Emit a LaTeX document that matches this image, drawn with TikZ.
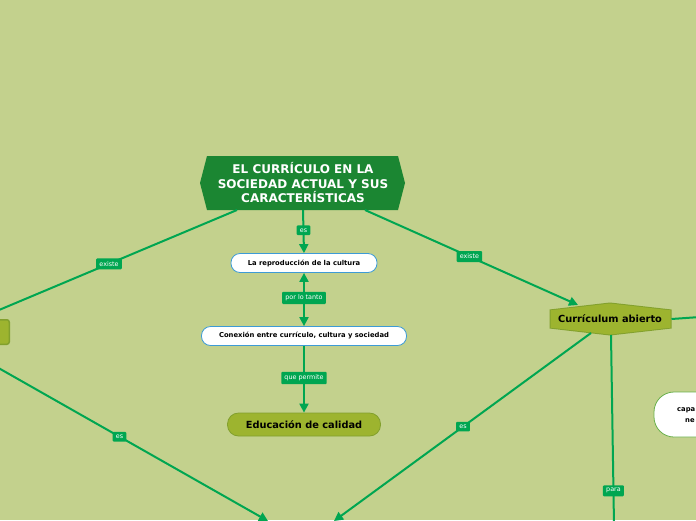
\documentclass[tikz,border=0pt]{standalone}
\usepackage{fontspec}
\setmainfont{DejaVu Sans}
\usetikzlibrary{arrows.meta}
\definecolor{bgc}{HTML}{C3D18D}
\definecolor{conn}{HTML}{00A651}
\definecolor{darkg}{HTML}{1B8632}
\definecolor{olive}{HTML}{9DB42F}
\definecolor{oliveb}{HTML}{82A02D}
\definecolor{blueb}{HTML}{3D9BD6}
\definecolor{greenb}{HTML}{6AB04C}
\tikzset{
  conline/.style={draw=conn, line width=2pt},
  arr/.style={-{Triangle[length=9pt,width=9pt]}},
  darr/.style={{Triangle[length=9pt,width=9pt]}-{Triangle[length=9pt,width=9pt]}},
  lbl/.style={fill=conn, text=white, font=\fontsize{6.4}{7}\selectfont, inner xsep=3.2pt, inner ysep=3pt, rounded corners=1pt},
  whitebox/.style={draw=blueb, fill=white, line width=0.8pt, rounded corners=9pt, minimum height=19pt, font=\bfseries\fontsize{6.8}{8}\selectfont, inner xsep=4pt},
  olivebox/.style={draw=oliveb, fill=olive, line width=0.8pt, rounded corners=11pt, minimum height=23pt, font=\bfseries\fontsize{9.8}{11}\selectfont},
}
\begin{document}
\begin{tikzpicture}[x=1pt,y=-1pt]
\useasboundingbox (0,0) rectangle (696,520);
\fill[bgc] (0,0) rectangle (696,520);
\clip (0,0) rectangle (696,520);

% coordinates for free ends
\coordinate (mainsw) at (237,210);
\coordinate (mainse) at (365,210);
\coordinate (mains) at (303,210);
\coordinate (lefttop) at (-20,318);
\coordinate (leftbot) at (-5,366);
\coordinate (botl) at (268,521);
\coordinate (botr) at (334,521);
\coordinate (botv) at (614,525);
\coordinate (rightout) at (700,317);

% main title shape
\fill[darkg] (207,156) -- (398,156) -- (405,183) -- (398,210) -- (207,210) -- (200,183) -- cycle;
\node[text=white, font=\bfseries\fontsize{12}{14.5}\selectfont, align=center] (main) at (303,183)
  {EL CURRÍCULO EN LA\\SOCIEDAD ACTUAL Y SUS\\CARACTERÍSTICAS};

% left node (cut off)
\fill[oliveb, rounded corners=3pt] (-60,319) rectangle (10,345);
\fill[olive, rounded corners=2pt] (-60,320.5) rectangle (8.5,343.5);
\node[inner sep=0pt, minimum width=68pt, minimum height=23pt] (leftn) at (-26,332) {};

% white nodes
\node[whitebox, minimum width=146pt] (repro) at (304,263) {La reproducción de la cultura};
\node[whitebox, minimum width=205pt] (conex) at (304,336) {Conexión entre currículo, cultura y sociedad};
\node[olivebox, minimum width=153pt] (educ) at (304,424.5) {Educación de calidad};

% Curriculum abierto shape
\fill[oliveb] (549.5,309.5) -- (610,302.5) -- (671.5,309.5) -- (671.5,328.5) -- (610,335.5) -- (549.5,328.5) -- cycle;
\fill[olive] (550.5,310.3) -- (610,303.5) -- (670.5,310.3) -- (670.5,327.7) -- (610,334.5) -- (550.5,327.7) -- cycle;
\node[font=\bfseries\fontsize{9.8}{11}\selectfont] (curab) at (610,319) {Currículum abierto};

% right white node (cut off)
\node[draw=greenb, fill=white, line width=0.8pt, rounded corners=20pt, minimum width=90pt, minimum height=45pt] (capn) at (699,414.5) {};
\node[anchor=west, font=\bfseries\fontsize{6.8}{8}\selectfont, inner sep=0pt] (capt1) at (677,410) {capa};
\node[anchor=west, font=\bfseries\fontsize{6.8}{8}\selectfont, inner sep=0pt] (capt2) at (685,420.5) {ne};

% connectors
\draw[conline, arr] (mains) -- (repro.north) node[lbl, pos=0.47] (l1) {es};
\draw[conline, darr] (repro.south) -- (conex.north) node[lbl, pos=0.47] (l2) {por lo tanto};
\draw[conline, arr] (conex.south) -- (educ.north) node[lbl, pos=0.48] (l3) {que permite};
\draw[conline] (mainsw) -- (lefttop) node[lbl, pos=0.498] (l4) {existe};
\draw[conline, arr] (mainse) -- (578,305) node[lbl, pos=0.49] (l5) {existe};
\draw[conline, arr] (leftbot) -- (botl) node[lbl, pos=0.456] (l6) {es};
\draw[conline, arr] (591,333) -- (botr) node[lbl, pos=0.498] (l7) {es};
\draw[conline] (611,335) -- (botv) node[lbl, pos=0.82] (l8) {para};
\draw[conline] (671.5,319) -- (rightout);
\end{tikzpicture}
\end{document}
